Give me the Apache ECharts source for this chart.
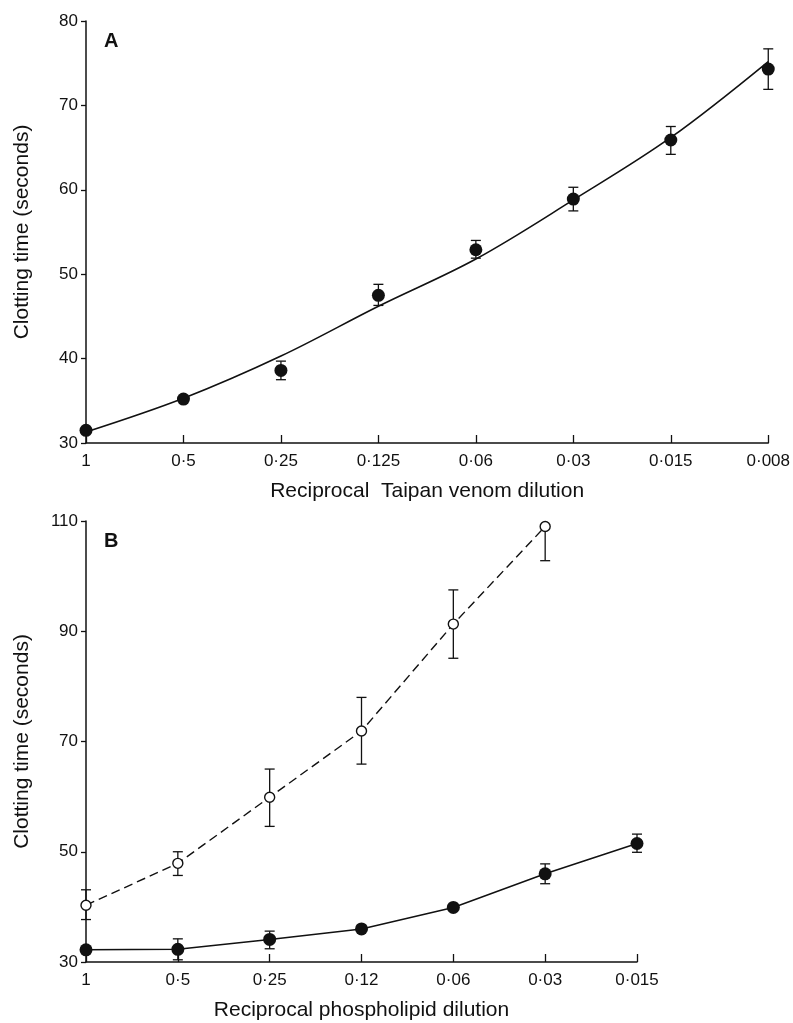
<!DOCTYPE html>
<html>
<head>
<meta charset="utf-8">
<script src="https://cdn.jsdelivr.net/npm/echarts/dist/echarts.min.js"></script>
<style>
  html, body { margin: 0; padding: 0; background: #fff; }
  #chart { width: 793px; height: 1023px; }
</style>
</head>
<body>
<div id="chart"></div>
<script>
// panel A - Taipan venom dilution
var catsA = ['1', '0·5', '0·25', '0·125', '0·06', '0·03', '0·015', '0·008'];
var meanA = [31.5, 35.2, 38.6, 47.5, 52.9, 58.9, 65.9, 74.3];
var hiA   = [null, null, 39.7, 48.8, 54.0, 60.3, 67.5, 76.7];
var loA   = [null, null, 37.5, 46.3, 51.9, 57.5, 64.2, 71.9];
var fitA  = [31.3, 35.3, 40.3, 46.2, 51.8, 58.8, 66.2, 75.2];

// panel B - phospholipid dilution
var catsB = ['1', '0·5', '0·25', '0·12', '0·06', '0·03', '0·015'];
var filledB = [32.2, 32.3, 34.1, 36.0, 39.9, 46.0, 51.5];
var filledHi = [null, 34.2, 35.6, null, null, 47.8, 53.2];
var filledLo = [null, 30.4, 32.4, null, null, 44.2, 49.9];
var openB  = [40.3, 47.9, 59.9, 71.9, 91.3, 109.0, null];
var openHi = [43.1, 50.0, 65.0, 78.0, 97.5, null, null];
var openLo = [37.7, 45.7, 54.6, 65.9, 85.1, 102.8, null];

var FONT = '"Liberation Sans", Arial, sans-serif';
var INK = '#111';

// rows for the error bars: [index, low, high, mean]
function errRows(mean, lo, hi) {
  var rows = [];
  for (var i = 0; i < mean.length; i++) {
    if (mean[i] == null || (lo[i] == null && hi[i] == null)) continue;
    rows.push([i, lo[i] == null ? mean[i] : lo[i], hi[i] == null ? mean[i] : hi[i], mean[i]]);
  }
  return rows;
}

function renderErr(params, api) {
  var i = api.value(0), lo = api.value(1), hi = api.value(2), m = api.value(3);
  var pLo = api.coord([i, lo]), pHi = api.coord([i, hi]);
  var w = 5;
  var st = { stroke: INK, lineWidth: 1.3 };
  var kids = [{ type: 'line', shape: { x1: pLo[0], y1: pLo[1], x2: pHi[0], y2: pHi[1] }, style: st }];
  if (lo !== m) kids.push({ type: 'line', shape: { x1: pLo[0] - w, y1: pLo[1], x2: pLo[0] + w, y2: pLo[1] }, style: st });
  if (hi !== m) kids.push({ type: 'line', shape: { x1: pHi[0] - w, y1: pHi[1], x2: pHi[0] + w, y2: pHi[1] }, style: st });
  return { type: 'group', children: kids };
}

function xAxisFor(grid, cats, name, labelMargin, nameGap) {
  return {
    type: 'category', gridIndex: grid, data: cats, boundaryGap: false,
    axisLine: { lineStyle: { color: INK, width: 1.5 } },
    axisTick: { inside: true, length: 8, lineStyle: { color: INK, width: 1.3 } },
    axisLabel: { color: INK, fontSize: 17, fontFamily: FONT, margin: labelMargin },
    splitLine: { show: false },
    name: name, nameLocation: 'middle', nameGap: nameGap,
    nameTextStyle: { color: INK, fontSize: 21, fontFamily: FONT }
  };
}

function yAxisFor(grid, min, max, step) {
  return {
    type: 'value', gridIndex: grid, min: min, max: max, interval: step,
    axisLine: { show: true, lineStyle: { color: INK, width: 1.5 } },
    axisTick: { show: true, length: 5, lineStyle: { color: INK, width: 1.3 } },
    axisLabel: { color: INK, fontSize: 17, fontFamily: FONT, margin: 8 },
    splitLine: { show: false },
    name: 'Clotting time (seconds)', nameLocation: 'middle', nameGap: 53,
    nameTextStyle: { color: INK, fontSize: 21, fontFamily: FONT }
  };
}

var chart = echarts.init(document.getElementById('chart'));
chart.setOption({
  backgroundColor: '#fff',
  animation: false,
  grid: [
    { left: 86, top: 21, width: 683, height: 422 },
    { left: 86, top: 521, width: 551, height: 441 }
  ],
  xAxis: [
    xAxisFor(0, catsA, 'Reciprocal  Taipan venom dilution', 10, 38),
    xAxisFor(1, catsB, 'Reciprocal phospholipid dilution', 10, 38)
  ],
  yAxis: [yAxisFor(0, 30, 80, 10), yAxisFor(1, 30, 110, 20)],
  graphic: [
    { type: 'text', left: 104, top: 31, style: { text: 'A', fontSize: 20, fontWeight: 'bold', fontFamily: FONT, fill: INK } },
    { type: 'text', left: 104, top: 531, style: { text: 'B', fontSize: 20, fontWeight: 'bold', fontFamily: FONT, fill: INK } }
  ],
  series: [
    // panel A
    { type: 'custom', xAxisIndex: 0, yAxisIndex: 0, z: 1, renderItem: renderErr,
      encode: { x: 0, y: [1, 2] }, data: errRows(meanA, loA, hiA) },
    { type: 'line', xAxisIndex: 0, yAxisIndex: 0, z: 2, data: fitA, smooth: 0.35,
      showSymbol: false, lineStyle: { color: INK, width: 1.6 } },
    { type: 'scatter', xAxisIndex: 0, yAxisIndex: 0, z: 3, data: meanA, symbol: 'circle', symbolSize: 13,
      itemStyle: { color: INK, opacity: 1 } },
    // panel B
    { type: 'custom', xAxisIndex: 1, yAxisIndex: 1, z: 1, renderItem: renderErr,
      encode: { x: 0, y: [1, 2] }, data: errRows(filledB, filledLo, filledHi) },
    { type: 'custom', xAxisIndex: 1, yAxisIndex: 1, z: 1, renderItem: renderErr,
      encode: { x: 0, y: [1, 2] }, data: errRows(openB, openLo, openHi) },
    { type: 'line', xAxisIndex: 1, yAxisIndex: 1, z: 2, data: openB, symbol: 'circle', symbolSize: 10,
      lineStyle: { color: INK, width: 1.4, type: [9, 5] },
      itemStyle: { color: '#fff', borderColor: INK, borderWidth: 1.4 } },
    { type: 'line', xAxisIndex: 1, yAxisIndex: 1, z: 3, data: filledB, symbol: 'circle', symbolSize: 13,
      lineStyle: { color: INK, width: 1.5 }, itemStyle: { color: INK } }
  ]
});
</script>
</body>
</html>
